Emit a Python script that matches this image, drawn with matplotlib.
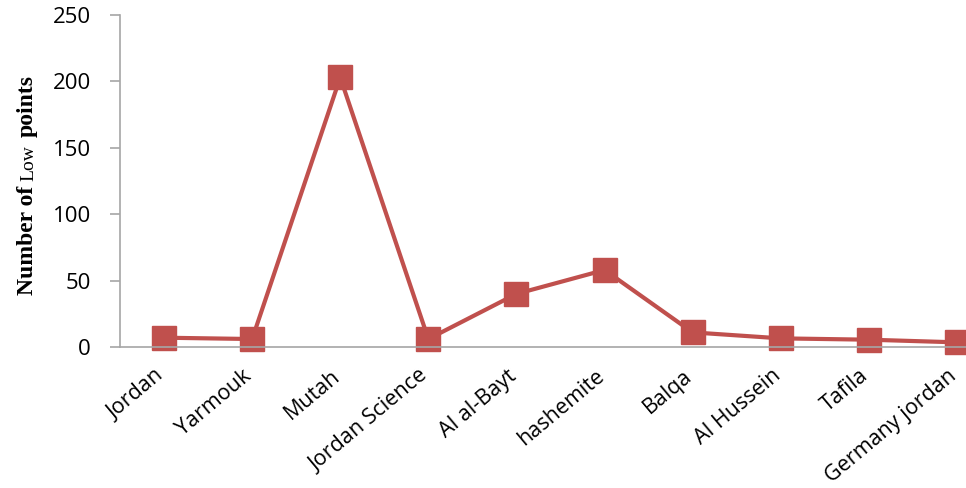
import matplotlib
matplotlib.use("Agg")
import matplotlib.pyplot as plt
import matplotlib.transforms as mtransforms
import numpy as np

universities = ["Jordan", "Yarmouk", "Mutah", "Jordan Science", "Al al-Bayt",
                "hashemite", "Balqa", "Al Hussein", "Tafila", "Germany jordan"]
low_points = [7, 6, 203, 6, 40, 58, 11, 6.5, 5.5, 3.5]

red = "#C0504D"
grey = "#A6A6A6"

fig = plt.figure(figsize=(9.66, 4.88), dpi=100)
# axes runs past the right edge, last marker is clipped as in the source
ax = fig.add_axes([120/966, 1 - 347/488, 881/966, 332/488])

x = np.arange(len(universities))
ax.plot(x, low_points, color=red, lw=3, marker="s", markersize=17,
        markerfacecolor=red, markeredgecolor=red, clip_on=False)

ax.set_xlim(-0.5, len(universities) - 0.5)
ax.set_ylim(0, 250)
ax.set_yticks(np.arange(0, 251, 50))

for s in ["top", "right"]:
    ax.spines[s].set_visible(False)
for s in ["left", "bottom"]:
    ax.spines[s].set_color(grey)
    ax.spines[s].set_linewidth(1.2)

ax.tick_params(axis="y", direction="out", length=7, width=1.2, color=grey,
               pad=14, labelsize=16)
ax.tick_params(axis="x", length=0, pad=19)
for lab in ax.get_yticklabels():
    lab.set_fontfamily("Open Sans")

ax.set_xticks(x)
ax.set_xticklabels(universities, rotation=40, ha="right", va="center",
                   rotation_mode="anchor", fontsize=15.5, fontfamily="Open Sans")
shift = mtransforms.ScaledTranslation(-3/100, 0, fig.dpi_scale_trans)
for lab in ax.get_xticklabels():
    lab.set_transform(lab.get_transform() + shift)

# y label: Times-like bold, with a smaller "Low"
bx = 33 / 966
fig.text(bx, 1 - 240/488, "Number of", rotation=90, rotation_mode="anchor",
         ha="center", va="baseline", fontsize=17, fontweight="bold",
         fontfamily="Liberation Serif")
fig.text(bx, 1 - 163/488, "Low", rotation=90, rotation_mode="anchor",
         ha="center", va="baseline", fontsize=14, fontfamily="Liberation Serif")
fig.text(bx, 1 - 106/488, "points", rotation=90, rotation_mode="anchor",
         ha="center", va="baseline", fontsize=17, fontweight="bold",
         fontfamily="Liberation Serif")

fig.savefig("out.png", dpi=100)
